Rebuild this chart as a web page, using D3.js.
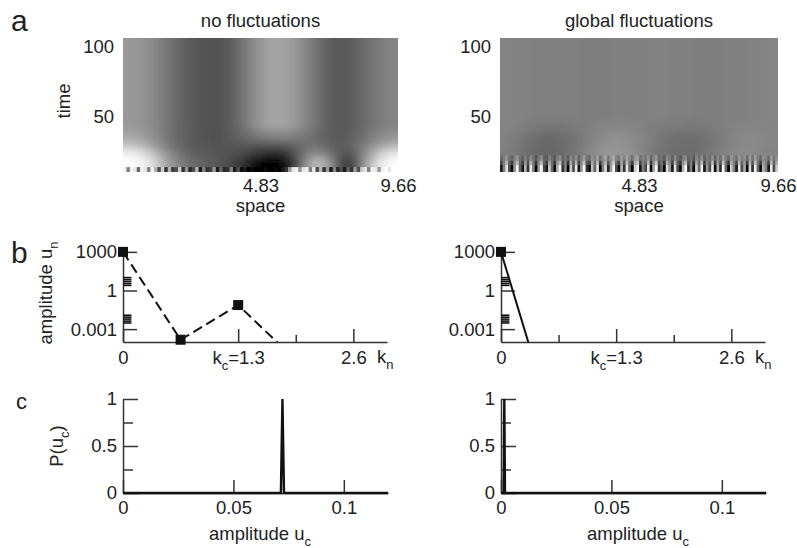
<!DOCTYPE html>
<html>
<head>
<meta charset="utf-8">
<script src="https://cdn.jsdelivr.net/npm/d3@7"></script>
<style>
  body { margin: 0; background: #fff; }
  text { font-family: "Liberation Sans", Arial, Helvetica, sans-serif; fill: #222; }
</style>
</head>
<body>
<div id="chart"></div>
<script>
// ---- panel a : space-time plots (grey level 0 = black, 1 = white) ----
var timeDomain = [10, 106];
var timeTicks = [50, 100];
var spaceTicks = [4.83, 9.66];

// rows of the left plot, top to bottom, bounded by these times
var leftEdges = [106, 40, 32, 26, 20, 10];
var leftGrid = [
  [0.60, 0.58, 0.54, 0.46, 0.40, 0.35, 0.32, 0.31, 0.35, 0.44, 0.55, 0.63, 0.66, 0.61, 0.53, 0.44, 0.36, 0.33, 0.37, 0.43, 0.48, 0.52],
  [0.66, 0.62, 0.55, 0.46, 0.40, 0.35, 0.32, 0.31, 0.34, 0.40, 0.46, 0.50, 0.52, 0.50, 0.47, 0.42, 0.36, 0.34, 0.38, 0.45, 0.52, 0.58],
  [0.78, 0.72, 0.60, 0.48, 0.40, 0.35, 0.33, 0.32, 0.33, 0.35, 0.33, 0.32, 0.33, 0.36, 0.45, 0.45, 0.38, 0.35, 0.40, 0.50, 0.62, 0.72],
  [0.95, 0.90, 0.75, 0.55, 0.45, 0.38, 0.36, 0.34, 0.32, 0.30, 0.22, 0.15, 0.15, 0.22, 0.45, 0.60, 0.45, 0.30, 0.32, 0.55, 0.78, 0.92],
  [1.00, 0.98, 0.85, 0.60, 0.50, 0.42, 0.38, 0.35, 0.30, 0.20, 0.02, 0.00, 0.00, 0.04, 0.40, 0.85, 0.55, 0.15, 0.18, 0.60, 0.92, 1.00]
];
// thin noisy strip at the start of the run (time 10-13)
var leftNoise = [0.95, 0.5, 0.95, 0.9, 0.4, 0.95, 0.9, 0.5, 0.95, 0.7,
  0.3, 0.8, 0.2, 0.7, 0.25, 0.3, 0.8, 0.2, 0.6, 0.15,
  0.3, 0.7, 0.1, 0.5, 0.2, 0.25, 0.6, 0.1, 0.4, 0.15,
  0.2, 0.5, 0.1, 0.3, 0.05, 0.1, 0, 0.05, 0, 0,
  0, 0.05, 0, 0, 0.05, 0, 0.1, 0.2, 0.6, 0.9,
  0.95, 0.6, 0.9, 0.95, 0.5, 0.9, 0.3, 0.7, 0.2, 0.6,
  0.1, 0.5, 0.15, 0.3, 0.1, 0.4, 0.2, 0.6, 0.3, 0.8,
  0.9, 0.5, 0.95, 0.9, 0.6, 0.95, 1, 0.9, 1, 1];

var rightEdges = [106, 46, 38, 28, 19, 10];
var rightGrid = [
  [0.52, 0.51, 0.50, 0.50, 0.50, 0.50, 0.50, 0.49, 0.50, 0.50, 0.50, 0.50, 0.51, 0.50, 0.50, 0.50, 0.49, 0.50, 0.50, 0.50, 0.51, 0.52],
  [0.52, 0.50, 0.48, 0.46, 0.46, 0.47, 0.49, 0.51, 0.52, 0.53, 0.52, 0.50, 0.49, 0.48, 0.47, 0.47, 0.48, 0.50, 0.51, 0.52, 0.52, 0.52],
  [0.51, 0.47, 0.43, 0.41, 0.42, 0.44, 0.48, 0.53, 0.56, 0.57, 0.55, 0.51, 0.47, 0.44, 0.43, 0.43, 0.45, 0.49, 0.52, 0.54, 0.53, 0.52],
  [0.50, 0.46, 0.42, 0.40, 0.41, 0.44, 0.49, 0.55, 0.60, 0.60, 0.56, 0.50, 0.46, 0.43, 0.42, 0.43, 0.46, 0.50, 0.53, 0.55, 0.53, 0.51],
  [0.50, 0.48, 0.46, 0.45, 0.46, 0.48, 0.50, 0.53, 0.56, 0.56, 0.54, 0.50, 0.48, 0.46, 0.46, 0.46, 0.48, 0.50, 0.52, 0.53, 0.52, 0.51]
];
var rightNoise = [0.1, 0.5, 0.9, 0.3, 0.05, 0.6, 0.95, 0.4, 0.1, 0.7,
  0.2, 0.9, 0.5, 0.0, 0.6, 1.0, 0.3, 0.1, 0.8, 0.4,
  0.05, 0.7, 0.95, 0.2, 0.5, 0.0, 0.8, 0.3, 0.9, 0.1,
  0.6, 1.0, 0.2, 0.05, 0.75, 0.4, 0.9, 0.0, 0.5, 0.85,
  0.15, 0.6, 1.0, 0.3, 0.05, 0.7, 0.2, 0.9, 0.4, 0.0,
  0.8, 0.95, 0.1, 0.5, 0.3, 0.9, 0.05, 0.65, 1.0, 0.2,
  0.4, 0.0, 0.85, 0.6, 0.1, 0.9, 0.3, 0.05, 0.7, 1.0,
  0.2, 0.5, 0.0, 0.8, 0.4, 0.95, 0.1, 0.6, 0.3, 0.9,
  0.05, 0.7, 0.2, 1.0, 0.4, 0.0, 0.8, 0.5, 0.1, 0.9,
  0.3, 0.65, 0.0, 0.85, 0.2, 0.95, 0.4, 0.05, 0.7, 0.5,
  0.1, 0.9, 0.3, 0.8];

// ---- panel b : mode amplitudes ----
var kValues = [0, 0.65, 1.3, 1.95, 2.6];
var ampNoFluct = [1000, 1.5e-4, 0.074, 4e-6, 1e-9];
var ampGlobal = [1000, 1.6e-12, 1e-14, 1e-15, 1e-16];
var ampTicks = [0.001, 1, 1000];
var ampTickLabels = ["0.001", "1", "1000"];
var kMajor = [0, 1.3, 2.6];
var kMajorLabels = ["0", "k_c=1.3", "2.6"];
var kMinor = [0.65, 1.95];
// small stacked marks close to k = 0
var clusterAmp = [10, 7, 5, 3.5, 2.5, 0.012, 0.0085, 0.006, 0.0042, 0.003];

// ---- panel c : distribution of u_c ----
var ucNoFluct = [0, 0.0715, 0.0722, 0.0729, 0.12];
var pNoFluct = [0, 0, 1, 0, 0];
var ucGlobal = [0, 0.0012, 0.0015, 0.0018, 0.12];
var pGlobal = [0, 0, 1, 0, 0];
var pTicks = [0, 0.5, 1];
var pMinor = [0.25, 0.75];
var ucTicks = [0, 0.05, 0.1];

var W = 797, H = 548, FS = 18.5;
var svg = d3.select("#chart").append("svg").attr("width", W).attr("height", H);
var defs = svg.append("defs");
defs.append("filter").attr("id", "soft")
  .attr("x", -0.1).attr("y", -0.2).attr("width", 1.2).attr("height", 1.4)
  .append("feGaussianBlur").attr("stdDeviation", "9 3.5");

var ink = "#333";
function grey(v) { var c = Math.round(v * 255); return d3.rgb(c, c, c); }

function styleAxis(sel, size) {
  sel.attr("font-family", null).attr("font-size", size);
  sel.selectAll("path, line").attr("stroke", ink).attr("stroke-width", 1.5);
  sel.selectAll("text").attr("fill", "#222");
}

// subscripts written as "x_s"
function subText(sel, str, size) {
  var parts = str.split("_");
  sel.text(null);
  sel.append("tspan").text(parts[0]);
  if (parts.length > 1) {
    var m = parts[1].match(/^(.)(.*)$/);
    sel.append("tspan").attr("dy", size * 0.3).attr("font-size", size * 0.7).text(m[1]);
    if (m[2]) sel.append("tspan").attr("dy", -size * 0.3).text(m[2]);
  }
}

function drawHeatmap(p) {
  var g = svg.append("g");
  var yT = d3.scaleLinear().domain(timeDomain).range([172, 38]);
  var xS = d3.scaleLinear().domain([0, 9.66]).range([p.x0, p.x1]);
  var nc = p.grid[0].length, nr = p.grid.length, pad = 30;
  var col = d3.scaleBand().domain(d3.range(nc)).range([p.x0, p.x1]);

  var clipId = "hm" + p.x0;
  defs.append("clipPath").attr("id", clipId).append("rect")
    .attr("x", p.x0).attr("y", yT(timeDomain[1])).attr("width", p.x1 - p.x0)
    .attr("height", yT(timeDomain[0]) - yT(timeDomain[1]));
  var clipped = g.append("g").attr("clip-path", "url(#" + clipId + ")");
  var cells = clipped.append("g").attr("filter", "url(#soft)");
  // edge cells are stretched outwards so the blur keeps the border colour
  p.grid.forEach(function(row, r) {
    var top = yT(p.edges[r]) - (r === 0 ? pad : 0);
    var bot = yT(p.edges[r + 1]) + (r === nr - 1 ? pad : 0);
    cells.selectAll(null).data(row).enter().append("rect")
      .attr("x", function(d, i) { return col(i) - (i === 0 ? pad : 0); })
      .attr("width", function(d, i) { return col.bandwidth() + 0.6 + (i === 0 ? pad : 0) + (i === nc - 1 ? pad : 0); })
      .attr("y", top)
      .attr("height", bot - top + 0.6)
      .attr("fill", function(d) { return grey(d); });
  });
  var ncol = d3.scaleBand().domain(d3.range(p.noise.length)).range([p.x0, p.x1]);
  p.noiseBands.forEach(function(b) {
    clipped.append("g").attr("opacity", b[2]).selectAll("rect").data(p.noise).enter().append("rect")
      .attr("x", function(d, i) { return ncol(i); }).attr("width", ncol.bandwidth() + 0.3)
      .attr("y", yT(b[1])).attr("height", yT(b[0]) - yT(b[1]))
      .attr("fill", function(d) { return grey(d); });
  });

  var ya = g.append("g").attr("transform", "translate(" + p.x0 + ",0)")
    .call(d3.axisLeft(yT).tickValues(timeTicks).tickSize(0).tickPadding(9));
  ya.select(".domain").remove();
  styleAxis(ya, FS);
  var xa = g.append("g").attr("transform", "translate(0,172)")
    .call(d3.axisBottom(xS).tickValues(spaceTicks).tickSize(0).tickPadding(7).tickFormat(d3.format(".2f")));
  xa.select(".domain").remove();
  styleAxis(xa, FS);

  g.append("text").attr("x", (p.x0 + p.x1) / 2).attr("y", 27).attr("text-anchor", "middle")
    .attr("font-size", FS).text(p.title);
  g.append("text").attr("x", (p.x0 + p.x1) / 2).attr("y", 212).attr("text-anchor", "middle")
    .attr("font-size", FS).text("space");
}

function drawSpectrum(p) {
  var g = svg.append("g");
  var x = d3.scaleLinear().domain([0, 2.98]).range([p.x0, p.x0 + 264]);
  var y = d3.scaleLog().domain([1e-4, 2000]).range([342, 248]);

  var ya = g.append("g").attr("transform", "translate(" + p.x0 + ",0)")
    .call(d3.axisLeft(y).tickValues(ampTicks).tickSize(-14).tickSizeOuter(0).tickPadding(6)
      .tickFormat(function(d, i) { return ampTickLabels[i]; }));
  styleAxis(ya, FS);
  var xa = g.append("g").attr("transform", "translate(0,342)")
    .call(d3.axisBottom(x).tickValues(kMajor).tickSize(-13).tickSizeOuter(0).tickPadding(9));
  styleAxis(xa, FS);
  xa.selectAll(".tick text").each(function(d, i) { subText(d3.select(this), kMajorLabels[i], FS); });
  var xm = g.append("g").attr("transform", "translate(0,342)")
    .call(d3.axisBottom(x).tickValues(kMinor).tickSize(-7).tickSizeOuter(0).tickFormat(""));
  xm.select(".domain").remove();
  styleAxis(xm, FS);

  var kn = g.append("text").attr("x", x(2.98) - 10).attr("y", 363).attr("font-size", FS);
  subText(kn, "k_n", FS);

  // small stacked marks near k = 0
  g.append("g").selectAll("rect").data(clusterAmp).enter().append("rect")
    .attr("x", x(0.005)).attr("width", 8)
    .attr("y", function(d) { return y(d) - 0.8; }).attr("height", 1.6)
    .attr("fill", "#111");

  var clipId = "clip" + p.x0;
  defs.append("clipPath").attr("id", clipId).append("rect")
    .attr("x", p.x0 - 10).attr("y", 230).attr("width", 290).attr("height", 342 - 230);
  var pts = p.k.map(function(k, i) { return [k, p.amp[i]]; });
  g.append("path").datum(pts).attr("clip-path", "url(#" + clipId + ")")
    .attr("d", d3.line().x(function(d) { return x(d[0]); }).y(function(d) { return y(d[1]); }))
    .attr("fill", "none").attr("stroke", "#111").attr("stroke-width", 2)
    .attr("stroke-dasharray", p.dash);
  g.append("g").selectAll("rect").data(pts.filter(function(d) { return d[1] >= 1e-4; })).enter()
    .append("rect")
    .attr("x", function(d) { return x(d[0]) - 5; }).attr("y", function(d) { return y(d[1]) - 5; })
    .attr("width", 10).attr("height", 10).attr("fill", "#111");
}

function drawDist(p) {
  var g = svg.append("g");
  var x = d3.scaleLinear().domain([0, 0.12]).range([p.x0, p.x0 + 265]);
  var y = d3.scaleLinear().domain([0, 1]).range([493, 399]);
  var ya = g.append("g").attr("transform", "translate(" + p.x0 + ",0)")
    .call(d3.axisLeft(y).tickValues(pTicks).tickSize(-15).tickSizeOuter(0).tickPadding(6).tickFormat(d3.format("")));
  styleAxis(ya, FS);
  var ym = g.append("g").attr("transform", "translate(" + p.x0 + ",0)")
    .call(d3.axisLeft(y).tickValues(pMinor).tickSize(-10).tickSizeOuter(0).tickFormat(""));
  ym.select(".domain").remove();
  styleAxis(ym, FS);
  var xa = g.append("g").attr("transform", "translate(0,493)")
    .call(d3.axisBottom(x).tickValues(ucTicks).tickSize(-13).tickSizeOuter(0).tickPadding(8).tickFormat(d3.format("")));
  styleAxis(xa, FS);

  var pts = p.u.map(function(u, i) { return [u, p.prob[i]]; });
  g.append("path").datum(pts)
    .attr("d", d3.line().x(function(d) { return x(d[0]); }).y(function(d) { return y(d[1]); }))
    .attr("fill", "none").attr("stroke", "#111").attr("stroke-width", 2.4).attr("stroke-linejoin", "miter");

  var lab = g.append("text").attr("x", p.x0 + 137).attr("y", 540).attr("text-anchor", "middle").attr("font-size", FS);
  subText(lab, "amplitude u_c", FS);
}

drawHeatmap({ x0: 123, x1: 398, grid: leftGrid, edges: leftEdges, noise: leftNoise,
  noiseBands: [[10, 13.5, 1]], title: "no fluctuations" });
drawHeatmap({ x0: 500, x1: 778, grid: rightGrid, edges: rightEdges, noise: rightNoise,
  noiseBands: [[18, 22, 0.2], [15, 18, 0.55], [10, 15, 1]], title: "global fluctuations" });
drawSpectrum({ x0: 123, k: kValues, amp: ampNoFluct, dash: "10,5" });
drawSpectrum({ x0: 501, k: kValues, amp: ampGlobal, dash: null });
drawDist({ x0: 123, u: ucNoFluct, prob: pNoFluct });
drawDist({ x0: 501, u: ucGlobal, prob: pGlobal });

// panel letters and rotated axis titles
svg.append("text").attr("x", 11).attr("y", 31).attr("font-size", 30).text("a");
svg.append("text").attr("x", 11).attr("y", 263).attr("font-size", 30).text("b");
svg.append("text").attr("x", 16).attr("y", 409).attr("font-size", 22).text("c");
svg.append("text").attr("transform", "translate(70,101) rotate(-90)").attr("text-anchor", "middle")
  .attr("font-size", FS).text("time");
var ylb = svg.append("text").attr("transform", "translate(52,293) rotate(-90)").attr("text-anchor", "middle").attr("font-size", FS);
subText(ylb, "amplitude u_n", FS);
var ylc = svg.append("text").attr("transform", "translate(63,446) rotate(-90)").attr("text-anchor", "middle").attr("font-size", FS);
subText(ylc, "P(u_c)", FS);
</script>
</body>
</html>
